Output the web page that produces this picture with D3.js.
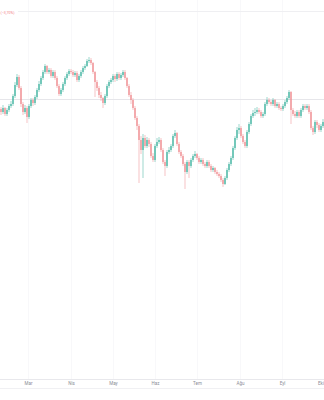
<!DOCTYPE html>
<html><head><meta charset="utf-8">
<script src="https://cdn.jsdelivr.net/npm/d3@7"></script>
<style>html,body{margin:0;padding:0;background:#fff;}svg{display:block;}</style>
</head><body>
<svg id="c" width="324" height="400"></svg>
<script>
const monthLabels = ["Mar","Nis","May","Haz","Tem","Ağu","Eyl","Eki"];
const monthIdx = [13.5,35,56,77,98,119.5,140.5,161.5];
const opens = [
35.1,34.8,35.2,34.6,35.0,35.4,35.6,36.4,37.5,38.3,
37.2,35.6,34.8,35.2,34.3,35.4,36.0,35.7,36.3,37.0,
37.6,38.2,38.8,39.4,38.8,39.0,38.4,38.8,38.2,37.4,
36.6,37.0,37.6,38.2,38.6,38.9,38.8,38.5,38.7,38.0,
38.4,38.8,39.2,39.4,39.9,40.0,39.7,38.8,37.8,37.2,
36.5,36.2,35.7,36.4,37.4,37.8,38.0,38.4,38.1,38.6,
38.2,38.5,38.8,38.2,37.4,36.5,36.0,35.2,34.2,33.4,
32.0,31.0,32.2,31.4,32.0,31.6,30.4,30.0,31.4,31.8,
32.0,31.0,29.8,29.4,30.8,31.0,31.4,32.4,32.7,31.6,
30.8,30.4,29.6,28.8,29.8,29.4,30.0,30.4,30.6,30.2,
29.8,30.0,29.6,29.4,29.8,29.4,29.0,29.2,28.8,28.6,
28.4,28.0,27.6,28.2,29.0,29.6,30.2,31.2,32.2,33.0,
33.2,32.4,31.8,31.4,32.8,33.6,34.4,34.7,34.8,35.0,
34.8,34.4,34.6,35.6,36.0,35.8,35.6,36.0,35.4,35.6,
35.2,35.1,35.4,35.8,36.2,36.8,35.0,34.6,34.4,34.8,
34.4,35.0,35.4,35.2,35.4,34.8,33.2,32.8,33.8,33.5,
33.0,33.4];
const highs = [
35.3,35.5,35.3,35.2,35.6,35.9,36.6,37.8,38.6,38.5,
37.4,35.8,35.5,35.4,35.6,36.2,36.2,36.5,37.2,37.9,
38.4,39.0,39.6,39.5,39.2,39.2,39.0,39.0,38.4,37.6,
37.2,37.8,38.4,38.8,39.1,39.1,39.0,38.9,38.9,38.6,
39.0,39.4,39.6,40.1,40.3,40.2,39.8,38.9,38.0,37.4,
36.8,36.3,36.6,37.6,38.0,38.2,38.6,38.6,38.8,38.8,
38.7,39.0,39.0,38.3,37.6,36.8,36.2,35.4,34.4,33.6,
32.4,32.6,32.5,32.3,32.2,31.8,30.7,31.6,32.2,32.3,
32.2,31.2,30.0,31.0,31.3,31.6,32.6,33.0,32.8,31.8,
31.0,30.6,29.8,30.0,30.0,30.2,30.6,30.9,30.7,30.4,
30.2,30.2,29.8,30.0,30.0,29.6,29.4,29.3,29.0,28.8,
28.6,28.2,28.4,29.2,29.8,30.4,31.4,32.4,33.3,33.6,
33.4,32.6,32.0,33.0,33.8,34.6,35.0,35.2,35.3,35.2,
35.0,34.8,35.8,36.3,36.2,36.0,36.2,36.1,35.8,35.8,
35.4,35.6,36.0,36.4,37.0,36.9,35.2,34.9,35.0,35.0,
35.2,35.6,35.6,35.6,35.6,35.0,33.4,34.0,34.0,33.7,
33.6,34.1];
const lows = [
34.5,34.6,34.4,34.4,34.8,35.2,35.4,36.2,37.3,37.0,
35.3,34.5,34.6,33.7,34.1,35.2,35.4,35.5,36.1,36.8,
37.4,38.0,38.6,38.6,38.6,38.2,38.2,38.0,37.2,36.4,
36.4,36.8,37.4,38.0,38.4,38.6,38.3,38.3,37.8,37.8,
38.2,38.6,39.0,39.3,39.7,39.5,38.6,36.3,36.9,36.2,
35.9,35.2,35.5,36.2,37.2,37.6,37.8,37.8,37.9,38.0,
38.0,38.3,38.0,37.2,36.3,35.6,35.0,34.0,33.0,27.7,
30.6,28.2,31.2,31.2,31.3,30.2,29.8,29.8,31.2,31.6,
30.8,29.6,28.4,29.2,30.6,30.8,31.2,32.2,31.4,30.6,
30.2,29.4,27.1,28.6,28.2,29.2,29.8,30.2,30.0,29.6,
29.6,29.4,29.2,29.2,29.2,28.8,28.8,28.6,28.4,28.2,
27.8,27.3,27.5,28.0,28.8,29.4,30.0,31.0,32.0,32.6,
32.2,31.6,31.2,31.2,32.6,33.4,34.2,34.4,34.6,34.6,
34.2,34.2,34.4,35.4,35.6,35.4,35.4,35.2,35.2,35.0,
34.9,34.9,35.2,35.6,36.0,33.6,34.4,34.2,34.2,34.2,
34.2,34.8,35.0,35.0,34.6,33.0,32.5,32.6,33.2,32.8,
32.8,33.2];
const closes = [
34.8,35.2,34.6,35.0,35.4,35.6,36.4,37.5,38.3,37.2,
35.6,34.8,35.2,34.3,35.4,36.0,35.7,36.3,37.0,37.6,
38.2,38.8,39.4,38.8,39.0,38.4,38.8,38.2,37.4,36.6,
37.0,37.6,38.2,38.6,38.9,38.8,38.5,38.7,38.0,38.4,
38.8,39.2,39.4,39.9,40.0,39.7,38.8,37.8,37.2,36.5,
36.2,35.7,36.4,37.4,37.8,38.0,38.4,38.1,38.6,38.2,
38.5,38.8,38.2,37.4,36.5,36.0,35.2,34.2,33.4,32.0,
31.0,32.2,31.4,32.0,31.6,30.4,30.0,31.4,31.8,32.0,
31.0,29.8,29.4,30.8,31.0,31.4,32.4,32.7,31.6,30.8,
30.4,29.6,28.8,29.8,29.4,30.0,30.4,30.6,30.2,29.8,
30.0,29.6,29.4,29.8,29.4,29.0,29.2,28.8,28.6,28.4,
28.0,27.6,28.2,29.0,29.6,30.2,31.2,32.2,33.0,33.2,
32.4,31.8,31.4,32.8,33.6,34.4,34.7,34.8,35.0,34.8,
34.4,34.6,35.6,36.0,35.8,35.6,36.0,35.4,35.6,35.2,
35.1,35.4,35.8,36.2,36.8,35.0,34.6,34.4,34.8,34.4,
35.0,35.4,35.2,35.4,34.8,33.2,32.8,33.8,33.5,33.0,
33.4,33.8];
const refPrice = 36.1;
const topPrice = 44.9;
const headerText = "(−3,70%)";

const W = 324, H = 400;
const svg = d3.select("#c");
svg.append("rect").attr("width",W).attr("height",H).attr("fill","#fff");

const x = d3.scaleLinear().domain([0, 161]).range([1, 323]);
const y = d3.scaleLinear().domain([8.1, 46]).range([379, 0]);

// vertical grid (very faint)
svg.append("g").selectAll("line").data(monthIdx).join("line")
  .attr("x1", d => Math.round(x(d)) + 0.5).attr("x2", d => Math.round(x(d)) + 0.5)
  .attr("y1", 0).attr("y2", 379)
  .attr("stroke", "#f8f8fa").attr("stroke-width", 1);

// top line and reference line
svg.append("line").attr("x1", 18).attr("x2", W).attr("y1", Math.round(y(topPrice))+0.5).attr("y2", Math.round(y(topPrice))+0.5)
  .attr("stroke", "#efeff2");
svg.append("line").attr("x1", 0).attr("x2", W).attr("y1", Math.round(y(refPrice))+0.5).attr("y2", Math.round(y(refPrice))+0.5)
  .attr("stroke", "#e6e6ea");

svg.append("text").attr("x", 0.5).attr("y", 14).attr("text-anchor","start")
  .attr("font-family","Roboto, sans-serif").attr("font-size", 3.6).attr("fill","#f27d87")
  .text(headerText);

const data = closes.map((c, i) => ({i, o: opens[i], h: highs[i], l: lows[i], c}));
const up = "#3fb3a0", dn = "#f08a8e";

const g = svg.append("g");
g.selectAll("line.w").data(data).join("line").attr("class","w")
  .attr("x1", d => x(d.i)).attr("x2", d => x(d.i))
  .attr("y1", d => y(d.h)).attr("y2", d => y(d.l))
  .attr("stroke", d => d.c >= d.o ? up : dn).attr("stroke-width", 0.6).attr("opacity", 0.85);
g.selectAll("rect.b").data(data).join("rect").attr("class","b")
  .attr("x", d => x(d.i) - 0.7).attr("width", 1.4)
  .attr("y", d => y(Math.max(d.o, d.c)))
  .attr("height", d => Math.max(0.6, Math.abs(y(d.o) - y(d.c))))
  .attr("fill", d => d.c >= d.o ? up : dn).attr("opacity", 0.9);

// bottom axis
svg.append("line").attr("x1",0).attr("x2",W).attr("y1",379.5).attr("y2",379.5).attr("stroke","#e8e8ec");
svg.append("line").attr("x1",0).attr("x2",W).attr("y1",388.5).attr("y2",388.5).attr("stroke","#f0f0f3");
const ax = svg.append("g").attr("transform","translate(0,380)")
  .call(d3.axisBottom(x).tickValues(monthIdx).tickFormat((d,i) => monthLabels[i]).tickSize(0).tickPadding(2));
ax.select(".domain").remove();
ax.selectAll("text").attr("font-family","Roboto, sans-serif").attr("font-size",4.5).attr("fill","#8a8d96")
  .attr("text-anchor", (d,i) => i === monthLabels.length - 1 ? "end" : "middle")
  .attr("dx", (d,i) => i === monthLabels.length - 1 ? "-0.5" : "0");
</script>
</body></html>
